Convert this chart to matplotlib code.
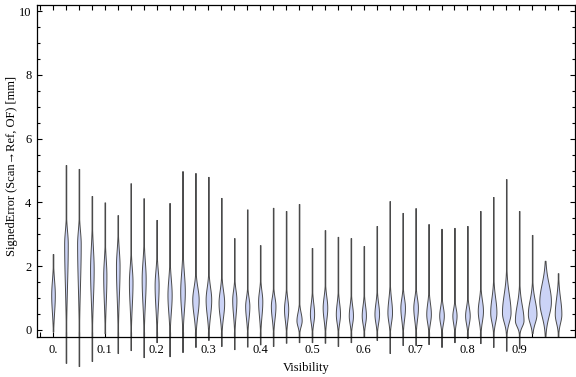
import numpy as np
import matplotlib as mpt
mpt.use('Agg')
from matplotlib import pyplot as plt
from matplotlib.ticker import MultipleLocator

plt.rcParams['font.family'] = ['Liberation Serif', 'DejaVu Serif']

# 每个小提琴的位置 (Visibility)
vis = [0.025 * i for i in range(40)]
# 最小值 / 最大值
lows = [-0.05, -1.03, -1.13, -0.97, -0.1, -0.72, -0.63, -0.85, -0.38, -0.82,
        -0.69, -0.53, -0.31, -0.5, -0.6, -0.52, -0.45, -0.5, -0.4, -0.38,
        -0.38, -0.4, -0.5, -0.38, -0.2, -0.31, -0.72, -0.47, -0.47, -0.44,
        -0.53, -0.38, -0.25, -0.41, -0.53, -0.65, -0.57, -0.1, -0.2, -0.2]
highs = [2.38, 5.17, 5.05, 4.2, 4.0, 3.6, 4.6, 4.13, 3.45, 3.98,
         4.98, 4.92, 4.8, 4.14, 2.88, 3.78, 2.66, 3.83, 3.73, 3.95,
         2.57, 3.13, 2.92, 2.88, 2.63, 3.26, 4.04, 3.67, 3.82, 3.32,
         3.17, 3.2, 3.26, 3.73, 4.17, 4.73, 3.73, 2.98, 2.17, 1.78]
# 众数 (最宽处) 与主体上沿
modes = [1.1, 2.7, 2.7, 1.9, 1.7, 2.0, 1.5, 1.6, 1.4, 1.1,
         1.2, 0.95, 0.95, 0.85, 0.95, 0.75, 0.9, 0.75, 0.65, 0.3,
         0.5, 0.7, 0.5, 0.45, 0.45, 0.5, 0.55, 0.7, 0.7, 0.5,
         0.45, 0.45, 0.45, 0.6, 0.55, 0.55, 0.3, 0.5, 0.9, 0.5]
body_top = [2.1, 3.6, 3.6, 3.35, 2.8, 3.1, 2.5, 2.8, 2.4, 2.2,
            2.5, 1.8, 1.8, 1.7, 1.6, 1.35, 1.6, 1.35, 1.35, 0.85,
            1.25, 1.45, 1.25, 1.15, 1.15, 1.25, 1.45, 1.35, 1.35, 1.25,
            1.05, 0.95, 1.05, 1.35, 1.55, 1.8, 1.35, 1.45, 2.1, 1.6]
# 最大半宽 (像素)
half_px = [1.8, 1.8, 1.8, 1.8, 1.6, 1.8, 1.8, 2.0, 2.0, 2.1,
           2.3, 3.2, 2.8, 2.8, 2.1, 2.1, 2.1, 2.3, 2.1, 2.6,
           2.1, 2.3, 2.1, 2.1, 2.1, 2.3, 2.3, 2.3, 2.3, 2.3,
           2.3, 2.1, 2.3, 2.6, 3.1, 4.3, 4.3, 4.3, 5.8, 3.3]

body_low = -0.1
px = 0.025 / 12.95  # 一个像素对应的 Visibility

fig = plt.figure(figsize=(5.76, 3.77), dpi=100)
ax = fig.add_axes([37 / 576, 40 / 377, 538 / 576, 332 / 377])

for x, lo, hi, m, bt, w in zip(vis, lows, highs, modes, body_top, half_px):
    y = np.linspace(lo, hi, 500)
    s = np.where(y > m, (bt - m) / 2.2, (m - body_low) / 2.2)
    hw = w * np.exp(-0.5 * ((y - m) / s) ** 2)
    hw = np.maximum(hw, 0.3) * px
    ax.fill_betweenx(y, x - hw, x + hw, facecolor='#cbd3f6', edgecolor='#4a4a4a',
                     linewidth=0.7, clip_on=False, zorder=2)

ax.set_xlim(-0.0309, 1.0077)
ax.set_ylim(-0.22, 10.19)

ax.set_xticks([-0.025 + 0.025 * k for k in range(41)])
ax.set_xticklabels([''] * 41)
xt_pos = [0.0, 0.1, 0.2, 0.3, 0.4, 0.5, 0.6, 0.7, 0.8, 0.9]
xt_lab = ['0.', '0.1', '0.2', '0.3', '0.4', '0.5', '0.6', '0.7', '0.8', '0.9']
for p, t in zip(xt_pos, xt_lab):
    ax.text(p, -0.022, t, transform=ax.get_xaxis_transform(), ha='center', va='top',
            fontsize=9)

ax.yaxis.set_major_locator(MultipleLocator(2))
ax.yaxis.set_minor_locator(MultipleLocator(0.5))
ax.tick_params(axis='both', which='both', direction='in', top=True, right=True,
               width=0.8, labelsize=9)
ax.tick_params(axis='x', which='major', length=3.5, pad=2)
ax.tick_params(axis='y', which='major', length=3.5, pad=4)
ax.tick_params(axis='y', which='minor', length=2)
ax.set_yticks([0, 2, 4, 6, 8, 10])
ax.set_yticklabels(['0', '2', '4', '6', '8', '10'])
for s in ax.spines.values():
    s.set_linewidth(0.9)

ax.set_xlabel('Visibility', fontsize=9, labelpad=16)
fig.text(12 / 576, 1 - 166 / 377, 'SignedError (Scan\u2192Ref, OF) [mm]', rotation=90,
         ha='center', va='center', fontsize=9)

plt.savefig('out.png', dpi=100)
